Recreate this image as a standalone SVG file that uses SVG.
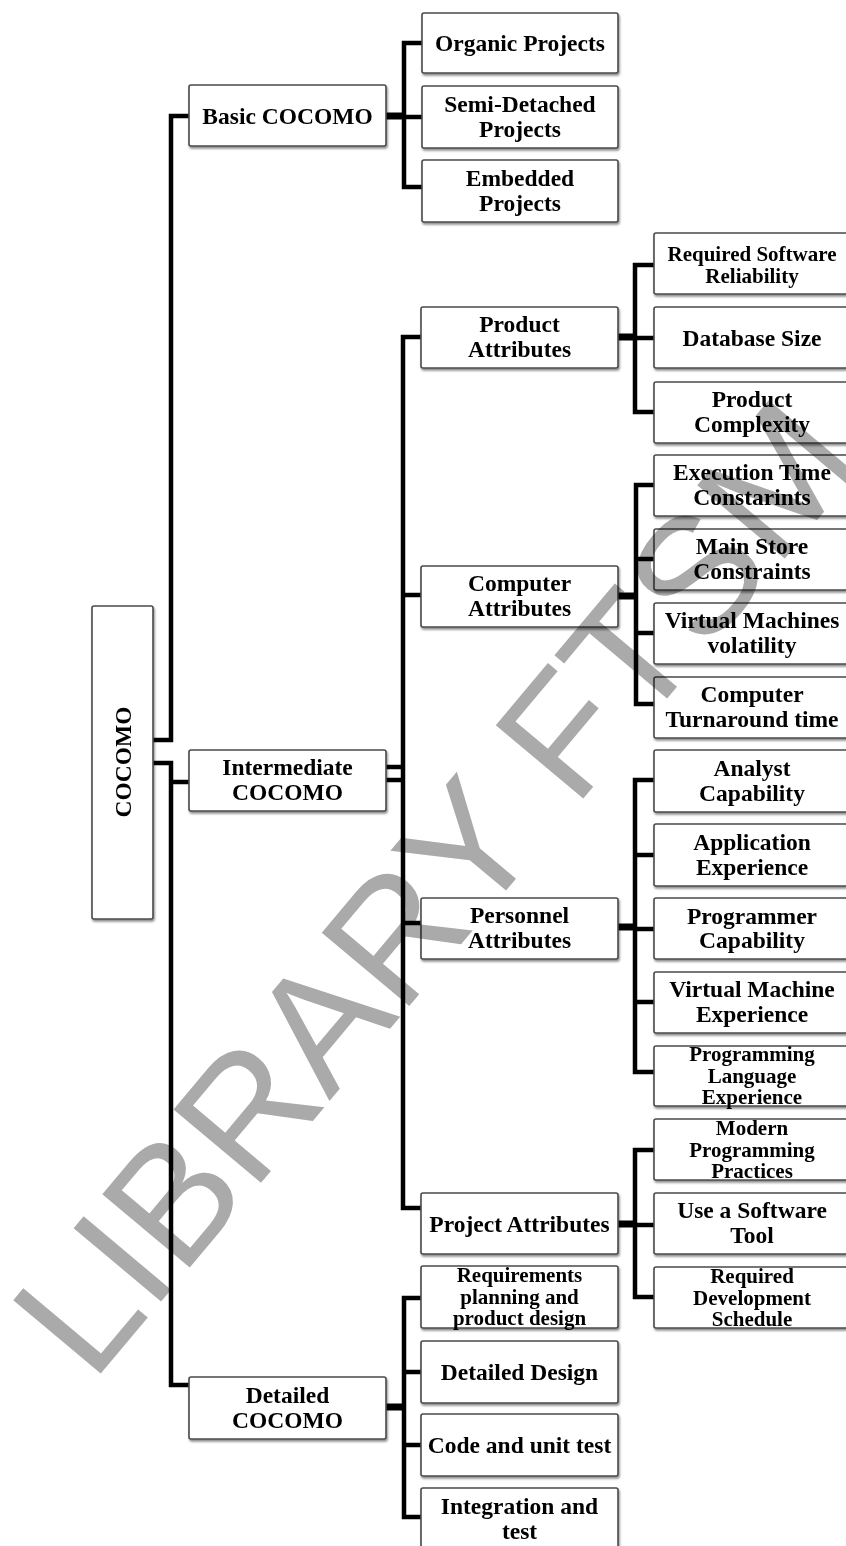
<svg xmlns="http://www.w3.org/2000/svg" width="846" height="1546" viewBox="0 0 846 1546">
  <style>
    .box { fill: #ffffff; stroke: #4a4a4a; stroke-width: 1.6; filter: url(#shadow); }
    .t { font-family: "Liberation Serif", "Times New Roman", serif; font-weight: bold; font-size: 23.5px; text-anchor: middle; fill: #000000; }
    .s { font-size: 21px; }
    .ln { fill: none; stroke: #000000; stroke-width: 4.5; stroke-linejoin: miter; stroke-linecap: butt; }
    .stub { fill: none; stroke: #000000; stroke-width: 7; }
    .wm { font-family: "Liberation Sans", Arial, sans-serif; font-size: 166px; fill: #aaaaaa; mix-blend-mode: multiply; }
  </style>
  <defs>
    <filter id="shadow" x="-10%" y="-10%" width="125%" height="130%">
      <feDropShadow dx="1" dy="2" stdDeviation="1.3" flood-color="#000000" flood-opacity="0.45"/>
    </filter>
  </defs>
  <rect width="846" height="1546" fill="#ffffff"/>

  <!-- connectors -->
  <g id="connectors">
    <!-- root to level 1 -->
    <path class="ln" d="M153,740 H171 V116 H189"/>
    <path class="ln" d="M153,763 H171 V1385 H189"/>
    <path class="ln" d="M171,782 H189"/>
    <!-- Basic COCOMO -->
    <path class="stub" d="M386,116 H404"/>
    <path class="ln" d="M422,43 H404 V187 H422"/>
    <path class="ln" d="M404,117 H422"/>
    <!-- Intermediate COCOMO -->
    <path class="ln" d="M386,767 H403 M386,780 H403"/>
    <path class="ln" d="M421,337 H403 V1208 H421"/>
    <path class="ln" d="M403,595 H421 M403,923 H421"/>
    <!-- Product Attributes -->
    <path class="stub" d="M618,337 H635"/>
    <path class="ln" d="M654,265 H635 V412 H654"/>
    <path class="ln" d="M635,338 H654"/>
    <!-- Computer Attributes -->
    <path class="stub" d="M618,596 H636"/>
    <path class="ln" d="M654,485 H636 V704 H654"/>
    <path class="ln" d="M636,559 H654 M636,633 H654"/>
    <!-- Personnel Attributes -->
    <path class="stub" d="M618,927 H635"/>
    <path class="ln" d="M654,780 H635 V1072 H654"/>
    <path class="ln" d="M635,855 H654 M635,929 H654 M635,1002 H654"/>
    <!-- Project Attributes -->
    <path class="stub" d="M618,1224 H635"/>
    <path class="ln" d="M654,1150 H635 V1297 H654"/>
    <path class="ln" d="M635,1225 H654"/>
    <!-- Detailed COCOMO -->
    <path class="stub" d="M386,1407 H404"/>
    <path class="ln" d="M421,1298 H404 V1517 H421"/>
    <path class="ln" d="M404,1372 H421 M404,1445 H421"/>
  </g>

  <!-- root -->
  <g id="cocomo">
    <rect class="box" x="92" y="606" width="61" height="313" rx="2"/>
    <text class="t" transform="translate(131,762) rotate(-90)">COCOMO</text>
  </g>

  <!-- level 1 -->
  <g id="basic">
    <rect class="box" x="189" y="85" width="197" height="61" rx="2"/>
    <text class="t" x="287.5" y="123.5">Basic COCOMO</text>
  </g>
  <g id="intermediate">
    <rect class="box" x="189" y="750" width="197" height="61" rx="2"/>
    <text class="t" x="287.5" y="775">Intermediate</text>
    <text class="t" x="287.5" y="800">COCOMO</text>
  </g>
  <g id="detailed">
    <rect class="box" x="189" y="1377" width="197" height="62" rx="2"/>
    <text class="t" x="287.5" y="1402.5">Detailed</text>
    <text class="t" x="287.5" y="1427.5">COCOMO</text>
  </g>

  <!-- Basic COCOMO modes -->
  <g id="organic">
    <rect class="box" x="422" y="13" width="196" height="60" rx="2"/>
    <text class="t" x="520" y="51">Organic Projects</text>
  </g>
  <g id="semi-detached">
    <rect class="box" x="422" y="86" width="196" height="62" rx="2"/>
    <text class="t" x="520" y="111.5">Semi-Detached</text>
    <text class="t" x="520" y="136.5">Projects</text>
  </g>
  <g id="embedded">
    <rect class="box" x="422" y="160" width="196" height="62" rx="2"/>
    <text class="t" x="520" y="185.5">Embedded</text>
    <text class="t" x="520" y="210.5">Projects</text>
  </g>

  <!-- Intermediate COCOMO attribute groups -->
  <g id="product">
    <rect class="box" x="421" y="307" width="197" height="61" rx="2"/>
    <text class="t" x="519.5" y="332">Product</text>
    <text class="t" x="519.5" y="357">Attributes</text>
  </g>
  <g id="computer">
    <rect class="box" x="421" y="566" width="197" height="61" rx="2"/>
    <text class="t" x="519.5" y="591">Computer</text>
    <text class="t" x="519.5" y="616">Attributes</text>
  </g>
  <g id="personnel">
    <rect class="box" x="421" y="898" width="197" height="61" rx="2"/>
    <text class="t" x="519.5" y="923">Personnel</text>
    <text class="t" x="519.5" y="948">Attributes</text>
  </g>
  <g id="project">
    <rect class="box" x="421" y="1193" width="197" height="61" rx="2"/>
    <text class="t" x="519.5" y="1231.5">Project Attributes</text>
  </g>

  <!-- Detailed COCOMO phases -->
  <g id="requirements">
    <rect class="box" x="421" y="1266" width="197" height="62" rx="2"/>
    <text class="t s" x="519.5" y="1282">Requirements</text>
    <text class="t s" x="519.5" y="1303.5">planning and</text>
    <text class="t s" x="519.5" y="1325">product design</text>
  </g>
  <g id="detailed-design">
    <rect class="box" x="421" y="1341" width="197" height="62" rx="2"/>
    <text class="t" x="519.5" y="1380">Detailed Design</text>
  </g>
  <g id="code-unit-test">
    <rect class="box" x="421" y="1414" width="197" height="62" rx="2"/>
    <text class="t" x="519.5" y="1453">Code and unit test</text>
  </g>
  <g id="integration">
    <rect class="box" x="421" y="1488" width="197" height="62" rx="2"/>
    <text class="t" x="519.5" y="1513.5">Integration and</text>
    <text class="t" x="519.5" y="1538.5">test</text>
  </g>

  <!-- product attributes -->
  <g id="reliability">
    <rect class="box" x="654" y="233" width="196" height="61" rx="2"/>
    <text class="t s" x="752" y="261">Required Software</text>
    <text class="t s" x="752" y="282.5">Reliability</text>
  </g>
  <g id="database-size">
    <rect class="box" x="654" y="307" width="196" height="61" rx="2"/>
    <text class="t" x="752" y="345.5">Database Size</text>
  </g>
  <g id="product-complexity">
    <rect class="box" x="654" y="382" width="196" height="61" rx="2"/>
    <text class="t" x="752" y="407">Product</text>
    <text class="t" x="752" y="432">Complexity</text>
  </g>

  <!-- computer attributes -->
  <g id="execution-time">
    <rect class="box" x="654" y="455" width="196" height="61" rx="2"/>
    <text class="t" x="752" y="480">Execution Time</text>
    <text class="t" x="752" y="505">Constarints</text>
  </g>
  <g id="main-store">
    <rect class="box" x="654" y="529" width="196" height="61" rx="2"/>
    <text class="t" x="752" y="554">Main Store</text>
    <text class="t" x="752" y="579">Constraints</text>
  </g>
  <g id="vm-volatility">
    <rect class="box" x="654" y="603" width="196" height="61" rx="2"/>
    <text class="t" x="752" y="628">Virtual Machines</text>
    <text class="t" x="752" y="653">volatility</text>
  </g>
  <g id="turnaround">
    <rect class="box" x="654" y="677" width="196" height="61" rx="2"/>
    <text class="t" x="752" y="702">Computer</text>
    <text class="t" x="752" y="726.5">Turnaround time</text>
  </g>

  <!-- personnel attributes -->
  <g id="analyst">
    <rect class="box" x="654" y="750" width="196" height="62" rx="2"/>
    <text class="t" x="752" y="776">Analyst</text>
    <text class="t" x="752" y="800.5">Capability</text>
  </g>
  <g id="application">
    <rect class="box" x="654" y="824" width="196" height="62" rx="2"/>
    <text class="t" x="752" y="850">Application</text>
    <text class="t" x="752" y="874.5">Experience</text>
  </g>
  <g id="programmer">
    <rect class="box" x="654" y="898" width="196" height="61" rx="2"/>
    <text class="t" x="752" y="923.5">Programmer</text>
    <text class="t" x="752" y="948">Capability</text>
  </g>
  <g id="vm-experience">
    <rect class="box" x="654" y="972" width="196" height="61" rx="2"/>
    <text class="t" x="752" y="997">Virtual Machine</text>
    <text class="t" x="752" y="1022">Experience</text>
  </g>
  <g id="language-experience">
    <rect class="box" x="654" y="1046" width="196" height="60" rx="2"/>
    <text class="t s" x="752" y="1061">Programming</text>
    <text class="t s" x="752" y="1082.5">Language</text>
    <text class="t s" x="752" y="1104">Experience</text>
  </g>

  <!-- project attributes -->
  <g id="modern-practices">
    <rect class="box" x="654" y="1119" width="196" height="61" rx="2"/>
    <text class="t s" x="752" y="1135">Modern</text>
    <text class="t s" x="752" y="1156.5">Programming</text>
    <text class="t s" x="752" y="1178">Practices</text>
  </g>
  <g id="software-tool">
    <rect class="box" x="654" y="1193" width="196" height="61" rx="2"/>
    <text class="t" x="752" y="1218">Use a Software</text>
    <text class="t" x="752" y="1243">Tool</text>
  </g>
  <g id="schedule">
    <rect class="box" x="654" y="1267" width="196" height="61" rx="2"/>
    <text class="t s" x="752" y="1283">Required</text>
    <text class="t s" x="752" y="1304.5">Development</text>
    <text class="t s" x="752" y="1326">Schedule</text>
  </g>

  <!-- watermark -->
  <g id="watermark">
    <text class="wm" transform="translate(92,1384) rotate(-50)">LIBRARY FTSM</text>
  </g>
</svg>
